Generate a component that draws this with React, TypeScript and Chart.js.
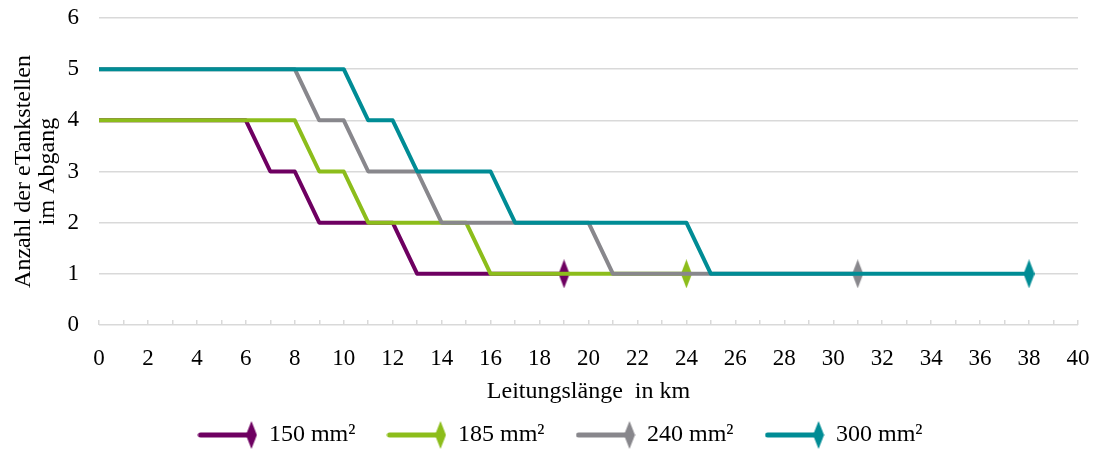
import React, { useEffect, useRef } from "react";
import { Chart, registerables } from "chart.js";

Chart.register(...registerables);

const seriesNames = ["150 mm²", "185 mm²", "240 mm²", "300 mm²"];
const seriesColors = ["#6E0061", "#8CBD1B", "#88878C", "#008C95"];

const x150 = [0, 6, 7, 8, 9, 12, 13, 19];
const y150 = [4, 4, 3, 3, 2, 2, 1, 1];
const x185 = [0, 8, 9, 10, 11, 15, 16, 24];
const y185 = [4, 4, 3, 3, 2, 2, 1, 1];
const x240 = [0, 8, 9, 10, 11, 13, 14, 20, 21, 31];
const y240 = [5, 5, 4, 4, 3, 3, 2, 2, 1, 1];
const x300 = [0, 10, 11, 12, 13, 16, 17, 24, 25, 38];
const y300 = [5, 5, 4, 4, 3, 3, 2, 2, 1, 1];

const xValues = [x150, x185, x240, x300];
const yValues = [y150, y185, y240, y300];

const xMin = 0;
const xMax = 40;
const yMin = 0;
const yMax = 6;
const xTitle = "Leitungslänge  in km";
const yTitle = ["Anzahl der eTankstellen", "im Abgang"];

const FONT = "'Liberation Serif', 'Times New Roman', serif";

function makeMarker(color: string): HTMLCanvasElement {
  const c = document.createElement("canvas");
  c.width = 11;
  c.height = 29;
  const ctx = c.getContext("2d")!;
  ctx.fillStyle = color;
  ctx.beginPath();
  ctx.moveTo(5.5, 0);
  ctx.lineTo(11, 14.5);
  ctx.lineTo(5.5, 29);
  ctx.lineTo(0, 14.5);
  ctx.closePath();
  ctx.fill();
  return c;
}

function makeLegendIcon(color: string): HTMLCanvasElement {
  const c = document.createElement("canvas");
  c.width = 60;
  c.height = 30;
  const ctx = c.getContext("2d")!;
  ctx.strokeStyle = color;
  ctx.lineWidth = 5;
  ctx.lineCap = "round";
  ctx.beginPath();
  ctx.moveTo(3, 15);
  ctx.lineTo(53, 15);
  ctx.stroke();
  ctx.fillStyle = color;
  ctx.beginPath();
  ctx.moveTo(54, 1);
  ctx.lineTo(59.5, 15);
  ctx.lineTo(54, 29);
  ctx.lineTo(48.5, 15);
  ctx.closePath();
  ctx.fill();
  return c;
}

export default function App() {
  const ref = useRef<HTMLCanvasElement | null>(null);

  useEffect(() => {
    if (!ref.current) return;
    document.body.style.margin = "0";
    const markers = seriesColors.map(makeMarker);
    const icons = seriesColors.map(makeLegendIcon);

    const datasets = seriesNames.map((name, i) => {
      const xs = xValues[i];
      const ys = yValues[i];
      return {
        label: name,
        data: xs.map((x, k) => ({ x, y: ys[k] })),
        borderColor: seriesColors[i],
        backgroundColor: seriesColors[i],
        borderWidth: 4,
        borderJoinStyle: "round" as const,
        pointStyle: markers[i],
        pointRadius: xs.map((_, k) => (k === xs.length - 1 ? 5 : 0)),
        pointHoverRadius: 0,
        fill: false,
        tension: 0,
        order: seriesNames.length - 1 - i,
      };
    });

    const chart = new Chart(ref.current, {
      type: "line",
      data: { datasets },
      options: {
        animation: false,
        responsive: false,
        events: [],
        layout: { padding: { left: 42.5, right: 16, top: 18, bottom: -8 } },
        font: { family: FONT },
        scales: {
          x: {
            type: "linear",
            min: xMin,
            max: xMax,
            border: { display: false },
            grid: {
              drawOnChartArea: false,
              drawTicks: true,
              tickLength: -5,
              color: "#D9D9D9",
              lineWidth: 1.5,
            },
            ticks: {
              stepSize: 1,
              autoSkip: false,
              maxRotation: 0,
              minRotation: 0,
              padding: 25,
              color: "#000",
              font: { family: FONT, size: 23 },
              callback: (v: any) => (Number(v) % 2 === 0 ? String(v) : ""),
            },
            title: {
              display: true,
              text: xTitle,
              color: "#000",
              font: { family: FONT, size: 24, lineHeight: 1.2 },
              padding: { top: 0, bottom: -15 },
            },
            afterFit: (s: any) => {
              s.height = 66.5;
              s.paddingLeft = 0;
              s.paddingRight = 0;
            },
          },
          y: {
            type: "linear",
            min: yMin,
            max: yMax,
            border: { display: false },
            grid: {
              color: "#D9D9D9",
              lineWidth: 1.5,
              drawTicks: false,
            },
            ticks: {
              stepSize: 1,
              padding: 20,
              color: "#000",
              font: { family: FONT, size: 23 },
            },
            title: {
              display: true,
              text: yTitle,
              color: "#000",
              font: { family: FONT, size: 24, lineHeight: 1.0 },
              padding: { top: -30.5, bottom: 0 },
            },
            afterFit: (s: any) => {
              s.width = 56.5;
              s.paddingTop = 0;
              s.paddingBottom = 0;
            },
          },
        },
        plugins: {
          tooltip: { enabled: false },
          legend: {
            display: true,
            position: "bottom",
            labels: {
              usePointStyle: true,
              pointStyleWidth: 59,
              padding: 31.5,
              color: "#000",
              font: { family: FONT, size: 24 },
              sort: (a: any, b: any) => a.datasetIndex - b.datasetIndex,
              generateLabels: (ch: any) => {
                const items = (Chart.defaults.plugins.legend.labels as any).generateLabels(ch);
                items.forEach((it: any) => {
                  it.pointStyle = icons[it.datasetIndex];
                });
                return items;
              },
            },
          },
        },
      } as any,
    });

    return () => {
      chart.destroy();
    };
  }, []);

  return (
    <div style={{ position: "fixed", left: 0, top: 0, width: 1094, height: 449 }}>
      <canvas ref={ref} width={1094} height={449} style={{ display: "block" }} />
    </div>
  );
}
